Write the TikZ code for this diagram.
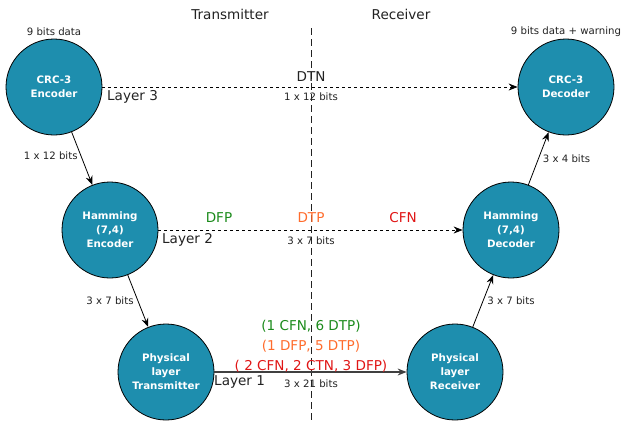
\documentclass[tikz,border=0pt]{standalone}
\usepackage{fontspec}
\setmainfont{DejaVu Sans}
\usetikzlibrary{arrows.meta}
\definecolor{nodefill}{HTML}{1E8EAE}
\definecolor{lgreen}{HTML}{1A8A1A}
\definecolor{lorange}{HTML}{FF6B2B}
\definecolor{lred}{HTML}{E01515}
\definecolor{txt}{HTML}{222222}
\tikzset{
  x=1bp, y=-1bp,
  blk/.style={circle, draw=black, line width=0.8bp, fill=nodefill, minimum size=96bp, inner sep=0pt,
    text=white, align=center, font=\fontsize{10.3}{14}\selectfont\bfseries},
  small/.style={font=\fontsize{10.2}{12}\selectfont, text=txt, inner sep=1bp},
  big/.style={font=\fontsize{13.6}{16}\selectfont, text=txt, inner sep=1bp},
  arr/.style={-{Stealth[length=9bp,width=7bp,inset=3bp]}, line width=0.8bp},
  dline/.style={arr, dash pattern=on 3bp off 3bp},
}
\begin{document}
\begin{tikzpicture}
\useasboundingbox (0,0) rectangle (621,420);
\node[blk] (enc3) at (54,87) {CRC-3\\Encoder};
\node[blk] (dec3) at (566,87) {CRC-3\\Decoder};
\node[blk] (enc2) at (110,230) {Hamming\\(7,4)\\Encoder};
\node[blk] (dec2) at (511,230) {Hamming\\(7,4)\\Decoder};
\node[blk] (enc1) at (166,372) {Physical\\layer\\Transmitter};
\node[blk] (dec1) at (455,372) {Physical\\layer\\Receiver};

\coordinate (vtop) at (311,28);
\coordinate (vbot) at (311,420);
\draw[line width=0.8bp, dash pattern=on 7bp off 4bp, draw=txt] (vtop) -- (vbot);

\node[big] (ttx) at (230,14) {Transmitter};
\node[big] (trx) at (401,14) {Receiver};
\node[small] (in3) at (54,32) {9 bits data};
\node[small] (out3) at (566,32) {9 bits data + warning};

\draw[dline] (enc3) -- (dec3);
\draw[dline] (enc2) -- (dec2);
\draw[arr, draw=black!75, line width=1.2bp] (enc1) -- (dec1);

\node[big, anchor=west] (l3) at (106,97) {Layer 3};
\node[big, anchor=west] (l2) at (161,240) {Layer 2};
\node[big, anchor=west] (l1) at (213,382) {Layer 1};

\node[big] (dtn) at (311,77) {DTN};
\node[small] (b3) at (311,97) {1 x 12 bits};
\node[big, text=lgreen] (dfp) at (219,218) {DFP};
\node[big, text=lorange] (dtp) at (311,218) {DTP};
\node[big, text=lred] (cfn) at (403,218) {CFN};
\node[small] (b2) at (311,241) {3 x 7 bits};
\node[big, text=lgreen] (c1) at (311,326) {(1 CFN, 6 DTP)};
\node[big, text=lorange] (c2) at (311,346) {(1 DFP, 5 DTP)};
\node[big, text=lred] (c3) at (311,366) {( 2 CFN, 2 CTN, 3 DFP)};
\node[small] (b1) at (311,384) {3 x 21 bits};

\draw[arr] (enc3) -- (enc2) node[small, pos=0.45, left=2bp] (e32) {1 x 12 bits};
\draw[arr] (enc2) -- (enc1) node[small, pos=0.5, left=3bp] (e21) {3 x 7 bits};
\draw[arr] (dec1) -- (dec2) node[small, pos=0.5, right=3bp] (d12) {3 x 7 bits};
\draw[arr] (dec2) -- (dec3) node[small, pos=0.5, right=3bp] (d23) {3 x 4 bits};
\end{tikzpicture}
\end{document}
